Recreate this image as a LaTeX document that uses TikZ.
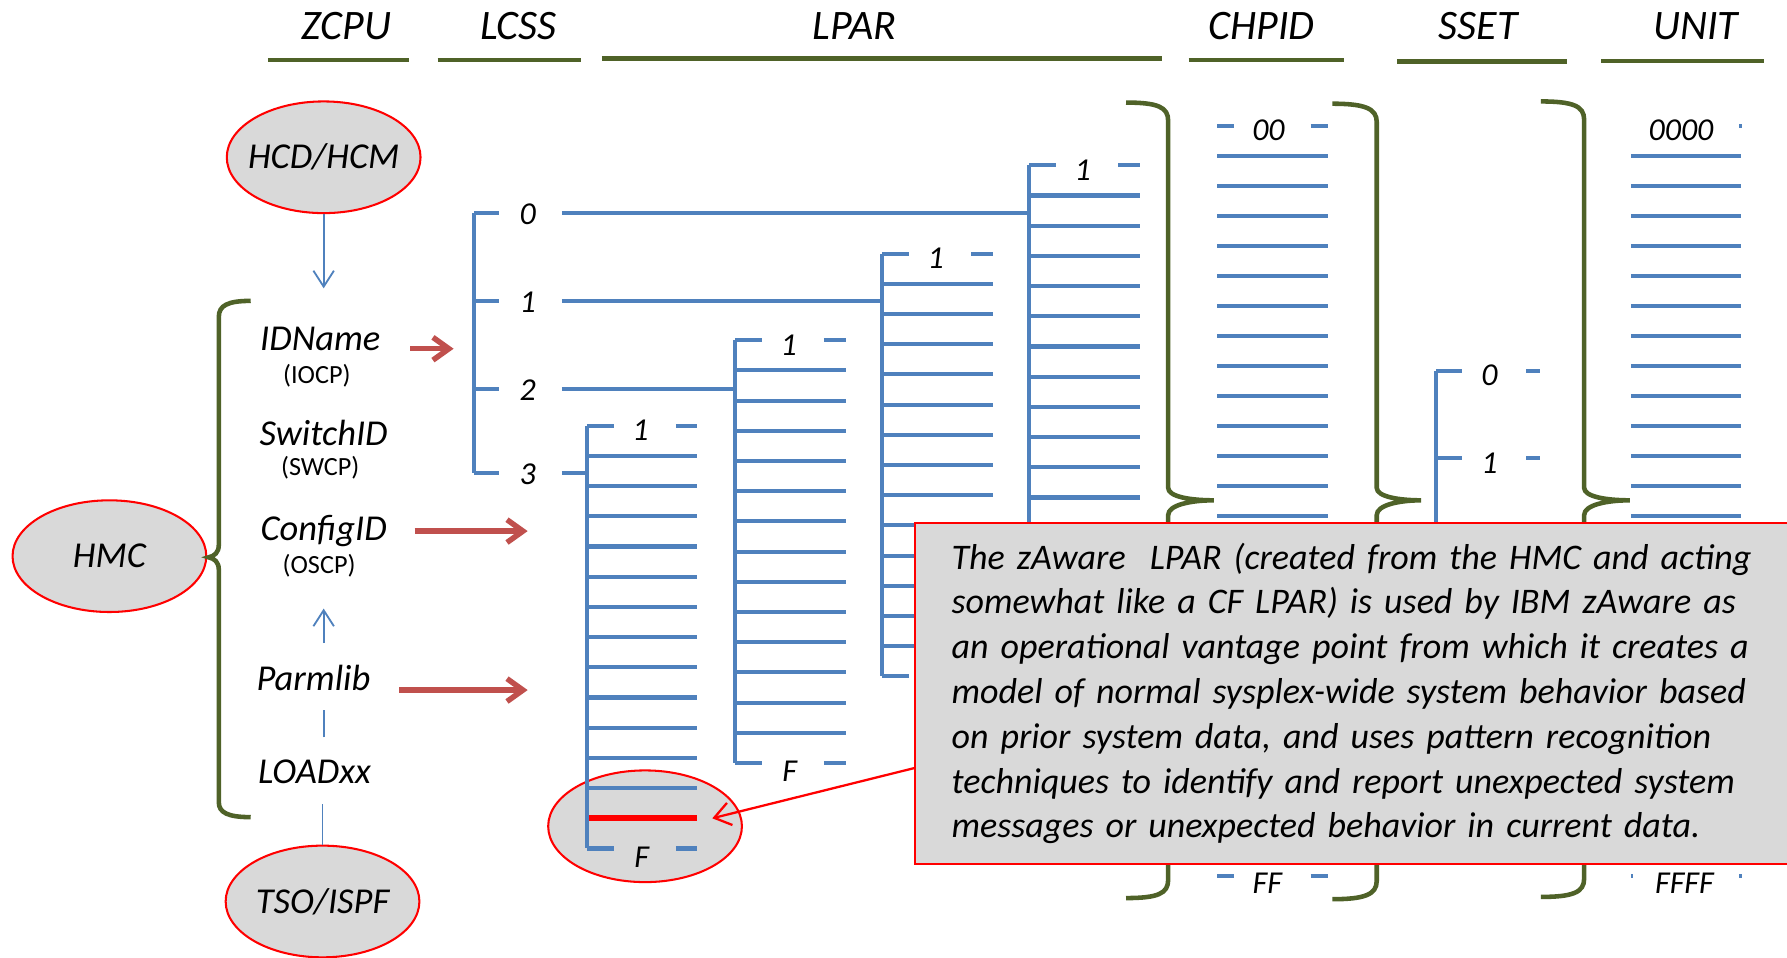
\documentclass[tikz,border=0pt]{standalone}
\usepackage{fontspec}
\setmainfont{Carlito}
\usetikzlibrary{arrows.meta,shapes.geometric}
\definecolor{barolive}{HTML}{4F6228}
\definecolor{ladblue}{HTML}{4F81BD}
\definecolor{arrred}{HTML}{C0504D}
\definecolor{boxgray}{HTML}{D9D9D9}
\tikzset{
  hd/.style={font=\fontsize{18.4}{22}\selectfont\itshape, inner sep=0pt},
  lbl/.style={font=\fontsize{16}{19}\selectfont\itshape, inner sep=0pt},
  srclbl/.style={font=\fontsize{11.5}{14}\selectfont, inner sep=0pt},
  numlbl/.style={font=\fontsize{14}{16}\selectfont\itshape, inner sep=0pt},
  oval/.style={ellipse, draw=red, line width=0.9pt, fill=boxgray, minimum width=85pt,
    minimum height=49pt, inner sep=0pt, font=\fontsize{16}{19}\selectfont\itshape},
  hdline/.style={draw=barolive, line width=2pt},
  bracepath/.style={draw=barolive, line width=2pt},
  ladder/.style={draw=ladblue, line width=1.8pt},
  blueline/.style={draw=ladblue, line width=0.8pt},
  bluearrow/.style={blueline, -{Straight Barb[length=7pt,width=9pt]}},
  redarrow/.style={draw=arrred, line width=2.4pt, -{Straight Barb[length=7pt,width=10pt]}},
  thinred/.style={draw=red, line width=1pt, -{Straight Barb[length=7pt,width=10pt]}},
  note/.style={draw=red, line width=1pt, fill=boxgray, text width=360pt, align=left,
    inner xsep=16pt, minimum height=149.5pt, font=\fontsize{15.8}{19.65}\selectfont\itshape}
}
\begin{document}
\begin{tikzpicture}[x=0.5pt, y=-0.5pt]
	\useasboundingbox (0,0) rectangle (1568,840);
	% column headings
	\node[hd] (zcpu) at (304,23) {ZCPU};
	\node[hd] (lcss) at (455,23) {LCSS};
	\node[hd] (lpar) at (750,23) {LPAR};
	\node[hd] (chpid) at (1107,23) {CHPID};
	\node[hd] (sset) at (1297,23) {SSET};
	\node[hd] (unit) at (1488,23) {UNIT};
	\foreach \a/\b/\y in {235/359/52.5, 384/510/52.5, 528/1020/51.5, 1043/1179/52.5, 1226/1375/54, 1405/1548/53.5}
	\draw[hdline] (\a,\y) -- (\b,\y);
	% ovals
	\node[oval] (hcd) at (284,138) {\makebox[0pt]{HCD/HCM}};
	\node[oval] (hmc) at (96,488) {\makebox[0pt]{HMC}};
	\node[oval] (tso) at (283,791) {\makebox[0pt]{TSO/ISPF}};
	\node[oval] (spot) at (566,725) {};
	% brace round the sources
	\draw[bracepath] (220,264) .. controls (200,264) and (192,268) .. (192,278) -- (192,478)
		.. controls (192,485) and (188,488) .. (183,489) .. controls (188,490) and (192,493) .. (192,500)
		-- (192,704) .. controls (192,713) and (200,717) .. (220,717);
	% sources
	\node[lbl] (idname) at (281,297) {IDName};
	\node[srclbl] (iocp) at (278,330) {(IOCP)};
	\node[lbl] (switchid) at (284,380) {SwitchID};
	\node[srclbl] (swcp) at (281,410) {(SWCP)};
	\node[lbl] (configid) at (284,466) {ConfigID};
	\node[srclbl] (oscp) at (280,496) {(OSCP)};
	\node[lbl] (parmlib) at (275,595) {Parmlib};
	\node[lbl] (loadxx) at (276,677) {LOADxx};
	\coordinate (idin) at (284,253);
	\coordinate (cfgin) at (284,534);
	\draw[bluearrow] (hcd) -- (idin);
	\draw[bluearrow, shorten <=9.5pt] (parmlib.north -| cfgin) -- (cfgin);
	\draw[blueline, shorten <=9.5pt, shorten >=8.25pt] (loadxx.north -| cfgin) -- (parmlib.south -| cfgin);
	\draw[blueline, shorten >=9pt] (tso) -- (loadxx.south -| tso);
	\coordinate (idtip) at (398,306);
	\coordinate (cfgtip) at (463,466);
	\coordinate (parmtip) at (463,605.5);
	\draw[redarrow, shorten <=13pt] (idname.east |- idtip) -- (idtip);
	\draw[redarrow, shorten <=12pt] (configid.east |- cfgtip) -- (cfgtip);
	\draw[redarrow, shorten <=12.5pt] (parmlib.east |- parmtip) -- (parmtip);
	% LCSS
	\draw[ladder] (416,187) -- (416,415);
	\foreach \n/\y/\x in {0/187/903, 1/264/773, 2/341/645, 3/415/515} {
		\draw[ladder] (416,\y) -- (438,\y);
		\node[numlbl] (cs\n) at (463,\y+1) {\n};
		\draw[ladder] (493,\y) -- (\x,\y);
	}
	% LPAR
	\foreach \x/\y/\i in {515/373.5/1, 645/298.5/2, 774/222.5/3, 903/145/4} {
		\draw[ladder] (\x,\y) -- (\x,\y+371);
		\foreach \k in {0,14} {
			\draw[ladder] (\x,\y+\k*26.5) -- (\x+24,\y+\k*26.5);
			\draw[ladder] (\x+78,\y+\k*26.5) -- (\x+97,\y+\k*26.5);
		}
		\foreach \k in {1,...,13}
		\draw[ladder] (\x,\y+\k*26.5) -- (\x+97,\y+\k*26.5);
		\node[numlbl] (lp\i) at (\x+47,\y+4) {1};
	}
	\node[numlbl] (lpf1) at (563,752) {F};
	\node[numlbl] (lpf2) at (693,677) {F};
	\draw[red, line width=2.6pt] (517,718) -- (612,718);
	% CHPID
	\foreach \k in {1,...,24}
	\draw[ladder] (1068,110.3+\k*26.33) -- (1165,110.3+\k*26.33);
	\foreach \y in {110.3, 768.6} {
		\draw[ladder] (1068,\y) -- (1083,\y);
		\draw[ladder] (1150,\y) -- (1165,\y);
	}
	\node[numlbl] (ch0) at (1113,114) {00};
	\node[numlbl] (chf) at (1112,775) {FF};
	% SSET
	\draw[ladder] (1260,325.5) -- (1260,480);
	\foreach \n/\y in {0/325.5, 1/402.2} {
		\draw[ladder] (1260,\y) -- (1283,\y);
		\node[numlbl] (ss\n) at (1307,\y+4) {\n};
		\draw[ladder] (1339,\y) -- (1351,\y);
	}
	% UNIT
	\foreach \k in {1,...,24}
	\draw[ladder] (1431,110.3+\k*26.33) -- (1528,110.3+\k*26.33);
	\draw[ladder] (1526,110.3) -- (1528.5,110.3);
	\draw[ladder] (1431,768.6) -- (1433,768.6);
	\draw[ladder] (1526,768.6) -- (1528.5,768.6);
	\node[numlbl] (un0) at (1475,114) {0000};
	\node[numlbl] (unf) at (1478,775) {FFFF};
	% braces
	\foreach \a/\b/\c/\t in {988/1025/1065/90, 1169/1208/1247/91, 1352/1390/1430/89}
	\draw[bracepath] (\a,\t) .. controls (\a+28,\t) and (\b,\t+4) .. (\b,\t+16) -- (\b,428)
		.. controls (\b,436) and (\b+20,439) .. (\c,439) .. controls (\b+20,439) and (\b,443) .. (\b,452)
		-- (\b,\t+682) .. controls (\b,\t+694) and (\a+28,\t+698) .. (\a,\t+698);
	% callout
	\node[note, anchor=north west] (note) at (802,458) {The zAware\ \ LPAR (created from the HMC and acting\\
		somewhat like a CF LPAR) is used by IBM zAware as\\
		an operational vantage point from which it creates a\\
		model of normal sysplex-wide system behavior based\\
		on prior system data, and uses pattern recognition\\
		techniques to identify and report unexpected system\\
		messages or unexpected behavior in current data.};
	\coordinate (spottip) at (625,718);
	\draw[thinred] ([yshift=-32.75pt]note.west) -- (spottip);
\end{tikzpicture}
\end{document}
